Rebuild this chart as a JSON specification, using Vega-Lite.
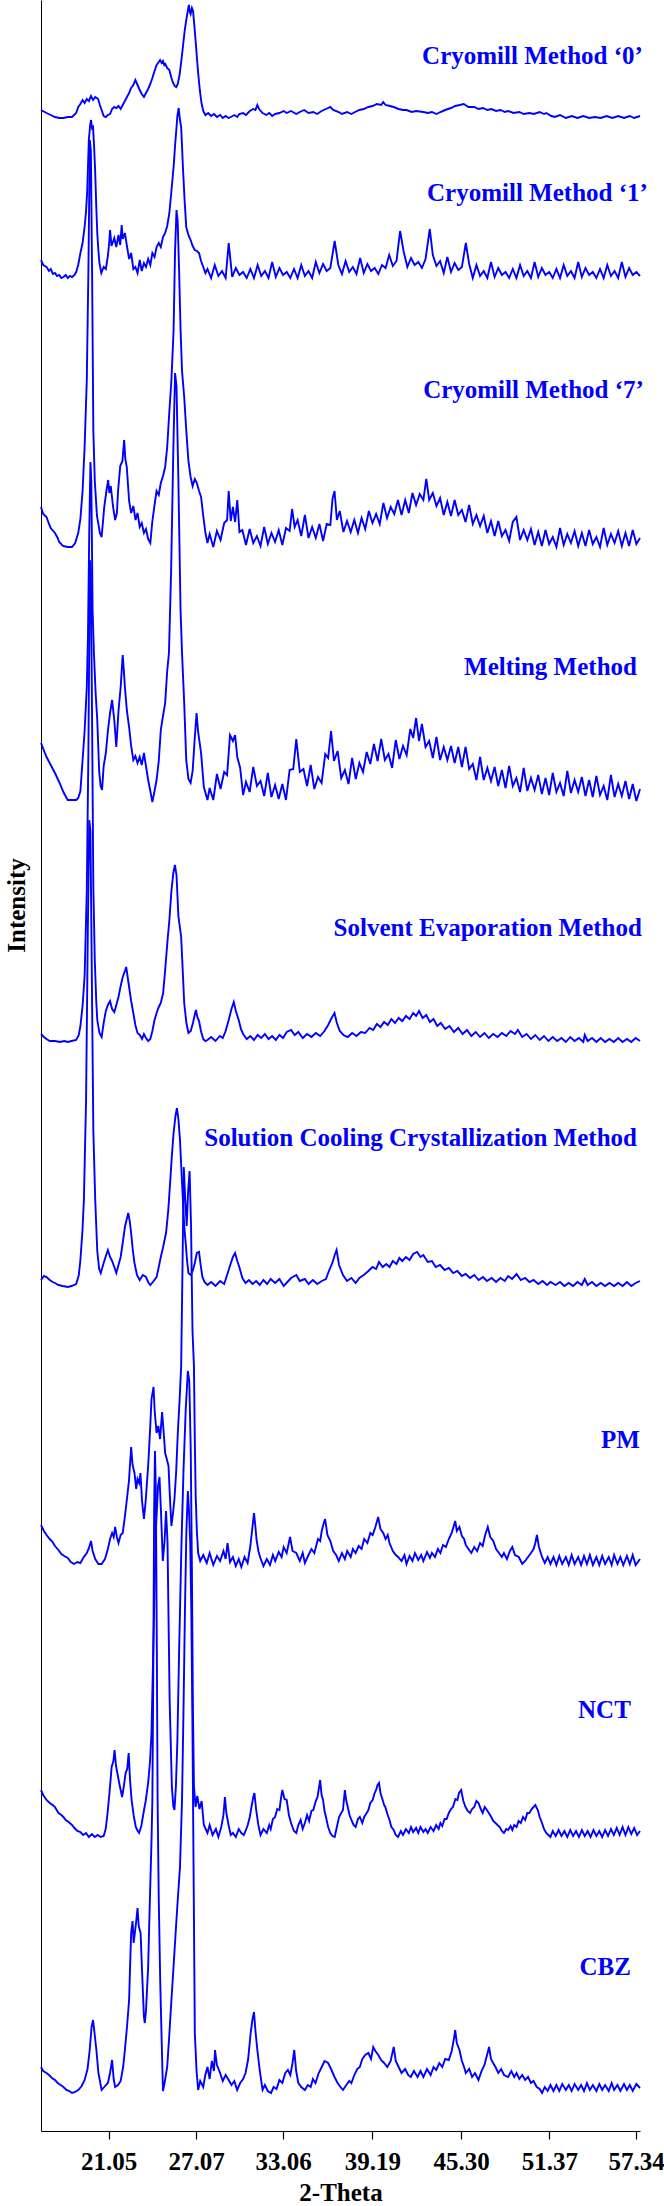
{"$schema":"https://vega.github.io/schema/vega-lite/v6.json","width":599,"height":2131,"autosize":{"type":"none"},"padding":{"left":41,"top":0,"right":24,"bottom":75},"config":{"view":{"stroke":null},"axis":{"grid":false}},
"datasets":{
"c0":[{"x":16.4,"y":2021},{"x":16.78,"y":2018},{"x":17.07,"y":2016},{"x":17.36,"y":2014},{"x":17.65,"y":2013},{"x":17.94,"y":2013},{"x":18.24,"y":2014},{"x":18.53,"y":2014},{"x":18.82,"y":2018},{"x":18.96,"y":2024},{"x":19.11,"y":2027},{"x":19.26,"y":2031},{"x":19.4,"y":2028},{"x":19.55,"y":2032},{"x":19.69,"y":2030},{"x":19.84,"y":2035},{"x":19.98,"y":2031},{"x":20.13,"y":2034},{"x":20.33,"y":2032},{"x":20.45,"y":2026},{"x":20.57,"y":2021},{"x":20.71,"y":2015},{"x":20.86,"y":2014},{"x":21.0,"y":2016},{"x":21.15,"y":2017},{"x":21.29,"y":2022},{"x":21.44,"y":2024},{"x":21.58,"y":2023},{"x":21.73,"y":2025},{"x":21.88,"y":2022},{"x":22.02,"y":2026},{"x":22.17,"y":2030},{"x":22.31,"y":2034},{"x":22.46,"y":2038},{"x":22.6,"y":2043},{"x":22.75,"y":2046},{"x":22.89,"y":2051},{"x":22.98,"y":2048},{"x":23.1,"y":2044},{"x":23.19,"y":2041},{"x":23.33,"y":2037},{"x":23.48,"y":2034},{"x":23.62,"y":2038},{"x":23.77,"y":2042},{"x":23.92,"y":2047},{"x":24.06,"y":2053},{"x":24.21,"y":2060},{"x":24.35,"y":2066},{"x":24.5,"y":2069},{"x":24.59,"y":2071},{"x":24.7,"y":2068},{"x":24.79,"y":2070},{"x":24.88,"y":2066},{"x":24.94,"y":2067},{"x":25.08,"y":2063},{"x":25.23,"y":2061},{"x":25.37,"y":2053},{"x":25.46,"y":2049},{"x":25.6,"y":2045},{"x":25.7,"y":2044},{"x":25.81,"y":2047},{"x":25.93,"y":2056},{"x":26.05,"y":2070},{"x":26.16,"y":2084},{"x":26.28,"y":2100},{"x":26.39,"y":2111},{"x":26.5,"y":2120},{"x":26.57,"y":2126},{"x":26.64,"y":2119},{"x":26.69,"y":2117},{"x":26.78,"y":2123},{"x":26.86,"y":2120},{"x":26.95,"y":2105},{"x":27.03,"y":2091},{"x":27.12,"y":2074},{"x":27.21,"y":2058},{"x":27.33,"y":2040},{"x":27.44,"y":2028},{"x":27.56,"y":2020},{"x":27.71,"y":2016},{"x":27.9,"y":2018},{"x":28.1,"y":2015},{"x":28.3,"y":2017},{"x":28.5,"y":2014},{"x":28.72,"y":2016},{"x":28.9,"y":2013},{"x":29.1,"y":2015},{"x":29.3,"y":2013},{"x":29.46,"y":2014},{"x":29.7,"y":2016},{"x":29.9,"y":2014},{"x":30.04,"y":2017},{"x":30.3,"y":2018},{"x":30.5,"y":2016},{"x":30.76,"y":2020},{"x":31.0,"y":2022},{"x":31.15,"y":2021},{"x":31.28,"y":2026},{"x":31.4,"y":2022},{"x":31.64,"y":2018},{"x":31.9,"y":2016},{"x":32.1,"y":2018},{"x":32.3,"y":2015},{"x":32.5,"y":2017},{"x":32.8,"y":2018},{"x":33.09,"y":2020},{"x":33.3,"y":2018},{"x":33.6,"y":2020},{"x":33.96,"y":2017},{"x":34.2,"y":2019},{"x":34.5,"y":2021},{"x":34.8,"y":2018},{"x":35.13,"y":2019},{"x":35.4,"y":2017},{"x":35.7,"y":2020},{"x":36.0,"y":2022},{"x":36.3,"y":2024},{"x":36.5,"y":2021},{"x":36.88,"y":2019},{"x":37.1,"y":2017},{"x":37.46,"y":2019},{"x":37.75,"y":2017},{"x":38.0,"y":2019},{"x":38.3,"y":2021},{"x":38.6,"y":2022},{"x":38.92,"y":2024},{"x":39.2,"y":2025},{"x":39.5,"y":2027},{"x":39.8,"y":2026},{"x":39.94,"y":2029},{"x":40.1,"y":2026},{"x":40.4,"y":2025},{"x":40.66,"y":2024},{"x":41.0,"y":2022},{"x":41.3,"y":2021},{"x":41.54,"y":2021},{"x":41.9,"y":2019},{"x":42.2,"y":2020},{"x":42.7,"y":2019},{"x":43.0,"y":2018},{"x":43.29,"y":2019},{"x":43.6,"y":2017},{"x":43.87,"y":2019},{"x":44.2,"y":2021},{"x":44.6,"y":2023},{"x":44.89,"y":2025},{"x":45.2,"y":2026},{"x":45.48,"y":2027},{"x":45.8,"y":2024},{"x":46.2,"y":2024},{"x":46.5,"y":2022},{"x":46.8,"y":2023},{"x":47.1,"y":2021},{"x":47.37,"y":2022},{"x":47.7,"y":2020},{"x":48.0,"y":2021},{"x":48.3,"y":2019},{"x":48.53,"y":2020},{"x":48.9,"y":2018},{"x":49.3,"y":2019},{"x":49.6,"y":2017},{"x":49.99,"y":2018},{"x":50.3,"y":2017},{"x":50.7,"y":2019},{"x":51.0,"y":2017},{"x":51.15,"y":2018},{"x":51.5,"y":2015},{"x":51.74,"y":2014},{"x":52.1,"y":2016},{"x":52.5,"y":2013},{"x":52.9,"y":2015},{"x":53.3,"y":2013},{"x":53.7,"y":2015},{"x":54.1,"y":2013},{"x":54.5,"y":2014},{"x":54.9,"y":2013},{"x":55.3,"y":2015},{"x":55.7,"y":2013},{"x":56.1,"y":2015},{"x":56.5,"y":2013},{"x":56.9,"y":2015},{"x":57.2,"y":2013},{"x":57.6,"y":2015}],
"c1":[{"x":16.4,"y":1871},{"x":16.55,"y":1866},{"x":16.78,"y":1864},{"x":16.95,"y":1860},{"x":17.07,"y":1862},{"x":17.22,"y":1857},{"x":17.36,"y":1858},{"x":17.5,"y":1855},{"x":17.65,"y":1856},{"x":17.8,"y":1853},{"x":17.94,"y":1854},{"x":18.1,"y":1856},{"x":18.24,"y":1853},{"x":18.4,"y":1855},{"x":18.53,"y":1854},{"x":18.7,"y":1856},{"x":18.82,"y":1859},{"x":18.96,"y":1866},{"x":19.11,"y":1878},{"x":19.26,"y":1888},{"x":19.4,"y":1904},{"x":19.5,"y":1920},{"x":19.58,"y":1940},{"x":19.69,"y":1991},{"x":19.78,"y":2006},{"x":19.84,"y":2011},{"x":19.91,"y":2003},{"x":19.98,"y":2004},{"x":20.05,"y":1985},{"x":20.13,"y":1958},{"x":20.2,"y":1925},{"x":20.27,"y":1898},{"x":20.35,"y":1880},{"x":20.42,"y":1868},{"x":20.55,"y":1858},{"x":20.71,"y":1864},{"x":20.86,"y":1862},{"x":21.0,"y":1875},{"x":21.1,"y":1890},{"x":21.15,"y":1901},{"x":21.25,"y":1885},{"x":21.44,"y":1893},{"x":21.58,"y":1884},{"x":21.73,"y":1896},{"x":21.85,"y":1886},{"x":21.95,"y":1906},{"x":22.02,"y":1892},{"x":22.17,"y":1898},{"x":22.31,"y":1885},{"x":22.46,"y":1872},{"x":22.6,"y":1878},{"x":22.75,"y":1862},{"x":22.89,"y":1864},{"x":23.04,"y":1858},{"x":23.19,"y":1871},{"x":23.33,"y":1860},{"x":23.48,"y":1868},{"x":23.62,"y":1864},{"x":23.77,"y":1872},{"x":23.92,"y":1866},{"x":24.06,"y":1878},{"x":24.21,"y":1874},{"x":24.35,"y":1884},{"x":24.5,"y":1888},{"x":24.64,"y":1884},{"x":24.79,"y":1894},{"x":24.94,"y":1898},{"x":25.08,"y":1905},{"x":25.23,"y":1918},{"x":25.37,"y":1940},{"x":25.52,"y":1964},{"x":25.62,"y":1985},{"x":25.69,"y":1998},{"x":25.78,"y":2015},{"x":25.87,"y":2023},{"x":25.95,"y":2012},{"x":26.04,"y":2004},{"x":26.1,"y":1985},{"x":26.16,"y":1964},{"x":26.28,"y":1930},{"x":26.39,"y":1904},{"x":26.54,"y":1896},{"x":26.69,"y":1891},{"x":26.83,"y":1885},{"x":26.98,"y":1881},{"x":27.12,"y":1880},{"x":27.27,"y":1878},{"x":27.41,"y":1870},{"x":27.56,"y":1864},{"x":27.71,"y":1858},{"x":27.85,"y":1862},{"x":28.1,"y":1853},{"x":28.35,"y":1866},{"x":28.6,"y":1855},{"x":28.85,"y":1860},{"x":29.1,"y":1853},{"x":29.31,"y":1888},{"x":29.55,"y":1854},{"x":29.8,"y":1863},{"x":30.05,"y":1856},{"x":30.3,"y":1859},{"x":30.55,"y":1853},{"x":30.8,"y":1862},{"x":31.05,"y":1853},{"x":31.3,"y":1866},{"x":31.55,"y":1855},{"x":31.8,"y":1860},{"x":32.05,"y":1853},{"x":32.3,"y":1869},{"x":32.55,"y":1854},{"x":32.8,"y":1863},{"x":33.05,"y":1856},{"x":33.3,"y":1859},{"x":33.55,"y":1853},{"x":33.8,"y":1862},{"x":34.05,"y":1853},{"x":34.3,"y":1866},{"x":34.55,"y":1855},{"x":34.8,"y":1860},{"x":35.05,"y":1853},{"x":35.3,"y":1869},{"x":35.55,"y":1858},{"x":35.8,"y":1867},{"x":36.05,"y":1860},{"x":36.3,"y":1863},{"x":36.6,"y":1890},{"x":36.85,"y":1866},{"x":37.1,"y":1857},{"x":37.35,"y":1870},{"x":37.6,"y":1859},{"x":37.85,"y":1864},{"x":38.1,"y":1857},{"x":38.35,"y":1873},{"x":38.6,"y":1858},{"x":38.85,"y":1867},{"x":39.1,"y":1860},{"x":39.35,"y":1863},{"x":39.6,"y":1857},{"x":39.85,"y":1866},{"x":40.1,"y":1863},{"x":40.35,"y":1876},{"x":40.6,"y":1865},{"x":40.85,"y":1870},{"x":41.1,"y":1900},{"x":41.35,"y":1879},{"x":41.6,"y":1864},{"x":41.85,"y":1873},{"x":42.1,"y":1866},{"x":42.35,"y":1869},{"x":42.6,"y":1863},{"x":42.85,"y":1872},{"x":43.14,"y":1902},{"x":43.35,"y":1876},{"x":43.6,"y":1865},{"x":43.85,"y":1870},{"x":44.1,"y":1858},{"x":44.35,"y":1874},{"x":44.6,"y":1859},{"x":44.85,"y":1868},{"x":45.1,"y":1861},{"x":45.35,"y":1864},{"x":45.62,"y":1888},{"x":45.85,"y":1867},{"x":46.1,"y":1853},{"x":46.35,"y":1866},{"x":46.6,"y":1855},{"x":46.85,"y":1860},{"x":47.1,"y":1853},{"x":47.35,"y":1869},{"x":47.6,"y":1854},{"x":47.85,"y":1863},{"x":48.1,"y":1856},{"x":48.35,"y":1859},{"x":48.6,"y":1853},{"x":48.85,"y":1862},{"x":49.1,"y":1853},{"x":49.35,"y":1866},{"x":49.6,"y":1855},{"x":49.85,"y":1860},{"x":50.1,"y":1853},{"x":50.35,"y":1869},{"x":50.6,"y":1854},{"x":50.85,"y":1863},{"x":51.1,"y":1856},{"x":51.35,"y":1859},{"x":51.6,"y":1853},{"x":51.85,"y":1862},{"x":52.1,"y":1853},{"x":52.35,"y":1866},{"x":52.6,"y":1855},{"x":52.85,"y":1860},{"x":53.1,"y":1853},{"x":53.35,"y":1869},{"x":53.6,"y":1854},{"x":53.85,"y":1863},{"x":54.1,"y":1856},{"x":54.35,"y":1859},{"x":54.6,"y":1853},{"x":54.85,"y":1862},{"x":55.1,"y":1853},{"x":55.35,"y":1866},{"x":55.6,"y":1855},{"x":55.85,"y":1860},{"x":56.1,"y":1853},{"x":56.35,"y":1869},{"x":56.6,"y":1854},{"x":56.85,"y":1863},{"x":57.1,"y":1856},{"x":57.35,"y":1859},{"x":57.6,"y":1855}],
"c7":[{"x":16.4,"y":1624},{"x":16.55,"y":1617},{"x":16.78,"y":1614},{"x":16.95,"y":1607},{"x":17.07,"y":1603},{"x":17.36,"y":1598},{"x":17.55,"y":1593},{"x":17.65,"y":1589},{"x":17.85,"y":1586},{"x":17.94,"y":1585},{"x":18.24,"y":1584},{"x":18.53,"y":1584},{"x":18.75,"y":1588},{"x":18.96,"y":1598},{"x":19.11,"y":1612},{"x":19.26,"y":1640},{"x":19.4,"y":1684},{"x":19.55,"y":1751},{"x":19.66,"y":1860},{"x":19.76,"y":1991},{"x":19.83,"y":1980},{"x":19.92,"y":1850},{"x":20.0,"y":1700},{"x":20.1,"y":1650},{"x":20.25,"y":1615},{"x":20.45,"y":1598},{"x":20.57,"y":1594},{"x":20.75,"y":1624},{"x":20.9,"y":1640},{"x":21.02,"y":1651},{"x":21.1,"y":1638},{"x":21.2,"y":1645},{"x":21.35,"y":1625},{"x":21.5,"y":1611},{"x":21.62,"y":1618},{"x":21.7,"y":1640},{"x":21.85,"y":1665},{"x":22.0,"y":1670},{"x":22.12,"y":1691},{"x":22.2,"y":1672},{"x":22.3,"y":1664},{"x":22.46,"y":1630},{"x":22.6,"y":1618},{"x":22.75,"y":1625},{"x":22.9,"y":1611},{"x":23.04,"y":1618},{"x":23.19,"y":1604},{"x":23.33,"y":1608},{"x":23.48,"y":1598},{"x":23.62,"y":1602},{"x":23.77,"y":1592},{"x":23.92,"y":1588},{"x":24.06,"y":1610},{"x":24.2,"y":1625},{"x":24.35,"y":1640},{"x":24.5,"y":1636},{"x":24.64,"y":1648},{"x":24.79,"y":1655},{"x":24.94,"y":1664},{"x":25.08,"y":1684},{"x":25.23,"y":1720},{"x":25.37,"y":1751},{"x":25.52,"y":1801},{"x":25.62,"y":1880},{"x":25.72,"y":1921},{"x":25.8,"y":1910},{"x":25.9,"y":1860},{"x":26.0,"y":1801},{"x":26.1,"y":1760},{"x":26.25,"y":1734},{"x":26.39,"y":1701},{"x":26.54,"y":1670},{"x":26.69,"y":1654},{"x":26.83,"y":1645},{"x":26.98,"y":1652},{"x":27.12,"y":1648},{"x":27.27,"y":1640},{"x":27.41,"y":1634},{"x":27.56,"y":1615},{"x":27.71,"y":1598},{"x":27.85,"y":1588},{"x":28.0,"y":1597},{"x":28.25,"y":1584},{"x":28.5,"y":1600},{"x":28.75,"y":1591},{"x":29.0,"y":1608},{"x":29.2,"y":1611},{"x":29.31,"y":1640},{"x":29.45,"y":1610},{"x":29.6,"y":1624},{"x":29.75,"y":1609},{"x":29.9,"y":1631},{"x":30.05,"y":1599},{"x":30.25,"y":1601},{"x":30.5,"y":1586},{"x":30.75,"y":1602},{"x":31.0,"y":1588},{"x":31.25,"y":1595},{"x":31.5,"y":1585},{"x":31.75,"y":1604},{"x":32.0,"y":1587},{"x":32.25,"y":1598},{"x":32.5,"y":1589},{"x":32.75,"y":1601},{"x":33.0,"y":1586},{"x":33.25,"y":1603},{"x":33.5,"y":1600},{"x":33.67,"y":1622},{"x":33.85,"y":1604},{"x":34.05,"y":1611},{"x":34.3,"y":1595},{"x":34.55,"y":1616},{"x":34.8,"y":1593},{"x":35.05,"y":1604},{"x":35.3,"y":1593},{"x":35.55,"y":1607},{"x":35.8,"y":1590},{"x":36.05,"y":1607},{"x":36.3,"y":1606},{"x":36.45,"y":1632},{"x":36.59,"y":1640},{"x":36.75,"y":1611},{"x":36.95,"y":1620},{"x":37.2,"y":1599},{"x":37.45,"y":1610},{"x":37.7,"y":1599},{"x":37.95,"y":1611},{"x":38.2,"y":1598},{"x":38.45,"y":1613},{"x":38.7,"y":1602},{"x":38.95,"y":1620},{"x":39.2,"y":1608},{"x":39.45,"y":1617},{"x":39.7,"y":1607},{"x":39.95,"y":1628},{"x":40.2,"y":1613},{"x":40.45,"y":1624},{"x":40.7,"y":1617},{"x":40.95,"y":1631},{"x":41.2,"y":1616},{"x":41.45,"y":1631},{"x":41.7,"y":1618},{"x":41.95,"y":1638},{"x":42.2,"y":1626},{"x":42.45,"y":1637},{"x":42.7,"y":1631},{"x":42.9,"y":1652},{"x":43.1,"y":1631},{"x":43.35,"y":1638},{"x":43.6,"y":1625},{"x":43.85,"y":1633},{"x":44.1,"y":1616},{"x":44.35,"y":1629},{"x":44.6,"y":1615},{"x":44.85,"y":1631},{"x":45.1,"y":1616},{"x":45.35,"y":1621},{"x":45.6,"y":1609},{"x":45.85,"y":1626},{"x":46.1,"y":1607},{"x":46.35,"y":1616},{"x":46.6,"y":1605},{"x":46.85,"y":1615},{"x":47.1,"y":1598},{"x":47.35,"y":1610},{"x":47.6,"y":1595},{"x":47.85,"y":1610},{"x":48.1,"y":1595},{"x":48.35,"y":1601},{"x":48.6,"y":1590},{"x":48.85,"y":1609},{"x":49.1,"y":1614},{"x":49.35,"y":1591},{"x":49.6,"y":1601},{"x":49.85,"y":1591},{"x":50.1,"y":1602},{"x":50.35,"y":1586},{"x":50.6,"y":1599},{"x":50.85,"y":1585},{"x":51.1,"y":1601},{"x":51.35,"y":1587},{"x":51.6,"y":1594},{"x":51.85,"y":1584},{"x":52.1,"y":1603},{"x":52.35,"y":1586},{"x":52.6,"y":1597},{"x":52.85,"y":1588},{"x":53.1,"y":1600},{"x":53.35,"y":1585},{"x":53.6,"y":1598},{"x":53.85,"y":1585},{"x":54.1,"y":1601},{"x":54.35,"y":1587},{"x":54.6,"y":1594},{"x":54.85,"y":1584},{"x":55.1,"y":1603},{"x":55.35,"y":1586},{"x":55.6,"y":1597},{"x":55.85,"y":1588},{"x":56.1,"y":1600},{"x":56.35,"y":1585},{"x":56.6,"y":1598},{"x":56.85,"y":1585},{"x":57.1,"y":1601},{"x":57.35,"y":1587},{"x":57.6,"y":1593}],
"melt":[{"x":16.4,"y":1388},{"x":16.78,"y":1374},{"x":17.07,"y":1366},{"x":17.36,"y":1358},{"x":17.65,"y":1349},{"x":17.94,"y":1339},{"x":18.24,"y":1331},{"x":18.53,"y":1331},{"x":18.82,"y":1331},{"x":18.96,"y":1333},{"x":19.11,"y":1340},{"x":19.26,"y":1371},{"x":19.4,"y":1400},{"x":19.55,"y":1444},{"x":19.63,"y":1494},{"x":19.72,"y":1600},{"x":19.8,"y":1669},{"x":19.86,"y":1650},{"x":19.95,"y":1520},{"x":20.04,"y":1478},{"x":20.15,"y":1440},{"x":20.27,"y":1411},{"x":20.4,"y":1360},{"x":20.5,"y":1345},{"x":20.6,"y":1341},{"x":20.71,"y":1365},{"x":20.86,"y":1378},{"x":21.0,"y":1400},{"x":21.15,"y":1418},{"x":21.29,"y":1431},{"x":21.44,"y":1411},{"x":21.58,"y":1384},{"x":21.73,"y":1420},{"x":21.88,"y":1444},{"x":22.02,"y":1476},{"x":22.1,"y":1460},{"x":22.17,"y":1444},{"x":22.31,"y":1420},{"x":22.46,"y":1404},{"x":22.6,"y":1385},{"x":22.75,"y":1371},{"x":22.89,"y":1375},{"x":23.04,"y":1368},{"x":23.19,"y":1374},{"x":23.33,"y":1366},{"x":23.48,"y":1378},{"x":23.62,"y":1365},{"x":23.77,"y":1351},{"x":23.92,"y":1340},{"x":24.06,"y":1329},{"x":24.21,"y":1340},{"x":24.35,"y":1351},{"x":24.5,"y":1370},{"x":24.64,"y":1401},{"x":24.79,"y":1415},{"x":24.94,"y":1428},{"x":25.08,"y":1460},{"x":25.2,"y":1478},{"x":25.35,"y":1560},{"x":25.5,"y":1680},{"x":25.62,"y":1758},{"x":25.72,"y":1745},{"x":25.85,"y":1650},{"x":26.0,"y":1520},{"x":26.1,"y":1478},{"x":26.25,"y":1428},{"x":26.39,"y":1371},{"x":26.54,"y":1352},{"x":26.69,"y":1348},{"x":26.83,"y":1360},{"x":26.98,"y":1394},{"x":27.1,"y":1418},{"x":27.2,"y":1400},{"x":27.41,"y":1378},{"x":27.6,"y":1344},{"x":27.85,"y":1331},{"x":28.0,"y":1343},{"x":28.25,"y":1331},{"x":28.5,"y":1357},{"x":28.75,"y":1342},{"x":29.0,"y":1359},{"x":29.2,"y":1356},{"x":29.4,"y":1396},{"x":29.6,"y":1390},{"x":29.75,"y":1396},{"x":29.9,"y":1374},{"x":30.1,"y":1363},{"x":30.3,"y":1336},{"x":30.5,"y":1349},{"x":30.75,"y":1339},{"x":31.0,"y":1364},{"x":31.25,"y":1345},{"x":31.5,"y":1350},{"x":31.75,"y":1335},{"x":32.0,"y":1358},{"x":32.25,"y":1334},{"x":32.5,"y":1346},{"x":32.75,"y":1332},{"x":33.0,"y":1347},{"x":33.25,"y":1331},{"x":33.5,"y":1361},{"x":33.75,"y":1362},{"x":33.96,"y":1392},{"x":34.2,"y":1359},{"x":34.45,"y":1362},{"x":34.7,"y":1345},{"x":34.95,"y":1366},{"x":35.2,"y":1342},{"x":35.45,"y":1354},{"x":35.7,"y":1348},{"x":35.95,"y":1377},{"x":36.15,"y":1373},{"x":36.35,"y":1400},{"x":36.55,"y":1370},{"x":36.8,"y":1380},{"x":37.05,"y":1353},{"x":37.3,"y":1361},{"x":37.55,"y":1347},{"x":37.8,"y":1373},{"x":38.05,"y":1352},{"x":38.3,"y":1368},{"x":38.55,"y":1359},{"x":38.8,"y":1379},{"x":39.05,"y":1367},{"x":39.3,"y":1387},{"x":39.55,"y":1370},{"x":39.8,"y":1392},{"x":40.05,"y":1371},{"x":40.3,"y":1377},{"x":40.55,"y":1363},{"x":40.8,"y":1391},{"x":41.05,"y":1372},{"x":41.3,"y":1385},{"x":41.55,"y":1376},{"x":41.8,"y":1402},{"x":42.0,"y":1393},{"x":42.2,"y":1413},{"x":42.4,"y":1390},{"x":42.6,"y":1407},{"x":42.85,"y":1384},{"x":43.1,"y":1390},{"x":43.35,"y":1373},{"x":43.6,"y":1394},{"x":43.85,"y":1371},{"x":44.1,"y":1384},{"x":44.35,"y":1371},{"x":44.6,"y":1385},{"x":44.85,"y":1368},{"x":45.1,"y":1384},{"x":45.35,"y":1364},{"x":45.6,"y":1384},{"x":45.85,"y":1362},{"x":46.1,"y":1367},{"x":46.35,"y":1351},{"x":46.6,"y":1374},{"x":46.85,"y":1351},{"x":47.1,"y":1363},{"x":47.35,"y":1350},{"x":47.6,"y":1364},{"x":47.85,"y":1345},{"x":48.1,"y":1361},{"x":48.35,"y":1343},{"x":48.6,"y":1365},{"x":48.85,"y":1345},{"x":49.1,"y":1353},{"x":49.35,"y":1339},{"x":49.6,"y":1363},{"x":49.85,"y":1340},{"x":50.1,"y":1353},{"x":50.35,"y":1341},{"x":50.6,"y":1356},{"x":50.85,"y":1337},{"x":51.1,"y":1353},{"x":51.35,"y":1336},{"x":51.6,"y":1358},{"x":51.85,"y":1339},{"x":52.1,"y":1348},{"x":52.35,"y":1335},{"x":52.6,"y":1360},{"x":52.85,"y":1338},{"x":53.1,"y":1351},{"x":53.35,"y":1339},{"x":53.6,"y":1354},{"x":53.85,"y":1335},{"x":54.1,"y":1351},{"x":54.35,"y":1334},{"x":54.6,"y":1355},{"x":54.85,"y":1336},{"x":55.1,"y":1345},{"x":55.35,"y":1331},{"x":55.6,"y":1356},{"x":55.85,"y":1334},{"x":56.1,"y":1347},{"x":56.35,"y":1335},{"x":56.6,"y":1350},{"x":56.85,"y":1332},{"x":57.1,"y":1347},{"x":57.35,"y":1330},{"x":57.6,"y":1342}],
"solv":[{"x":16.4,"y":1097},{"x":16.6,"y":1094},{"x":16.78,"y":1092},{"x":17.0,"y":1090},{"x":17.36,"y":1090},{"x":17.7,"y":1089},{"x":18.0,"y":1090},{"x":18.24,"y":1089},{"x":18.5,"y":1090},{"x":18.82,"y":1091},{"x":19.0,"y":1096},{"x":19.11,"y":1105},{"x":19.26,"y":1125},{"x":19.4,"y":1155},{"x":19.55,"y":1240},{"x":19.66,"y":1380},{"x":19.76,"y":1571},{"x":19.83,"y":1560},{"x":19.92,"y":1400},{"x":20.0,"y":1244},{"x":20.1,"y":1170},{"x":20.2,"y":1130},{"x":20.27,"y":1111},{"x":20.42,"y":1098},{"x":20.57,"y":1094},{"x":20.71,"y":1108},{"x":20.86,"y":1120},{"x":21.0,"y":1126},{"x":21.15,"y":1130},{"x":21.29,"y":1122},{"x":21.44,"y":1119},{"x":21.58,"y":1126},{"x":21.73,"y":1134},{"x":21.88,"y":1145},{"x":22.02,"y":1154},{"x":22.17,"y":1160},{"x":22.26,"y":1164},{"x":22.4,"y":1150},{"x":22.6,"y":1130},{"x":22.75,"y":1118},{"x":22.89,"y":1106},{"x":23.04,"y":1098},{"x":23.2,"y":1096},{"x":23.35,"y":1092},{"x":23.48,"y":1097},{"x":23.62,"y":1093},{"x":23.77,"y":1090},{"x":23.92,"y":1092},{"x":24.06,"y":1100},{"x":24.21,"y":1111},{"x":24.35,"y":1118},{"x":24.5,"y":1124},{"x":24.64,"y":1128},{"x":24.8,"y":1138},{"x":24.94,"y":1161},{"x":25.1,"y":1190},{"x":25.23,"y":1211},{"x":25.37,"y":1240},{"x":25.5,"y":1258},{"x":25.61,"y":1266},{"x":25.72,"y":1256},{"x":25.85,"y":1215},{"x":26.04,"y":1194},{"x":26.15,"y":1160},{"x":26.25,"y":1128},{"x":26.4,"y":1108},{"x":26.54,"y":1098},{"x":26.7,"y":1100},{"x":26.85,"y":1108},{"x":27.0,"y":1118},{"x":27.06,"y":1121},{"x":27.15,"y":1114},{"x":27.27,"y":1110},{"x":27.4,"y":1100},{"x":27.56,"y":1092},{"x":27.7,"y":1090},{"x":27.85,"y":1091},{"x":28.1,"y":1094},{"x":28.4,"y":1090},{"x":28.7,"y":1095},{"x":28.9,"y":1093},{"x":29.1,"y":1100},{"x":29.31,"y":1111},{"x":29.5,"y":1122},{"x":29.66,"y":1129},{"x":29.8,"y":1120},{"x":30.0,"y":1111},{"x":30.15,"y":1102},{"x":30.3,"y":1097},{"x":30.55,"y":1092},{"x":30.8,"y":1095},{"x":31.05,"y":1091},{"x":31.3,"y":1096},{"x":31.55,"y":1093},{"x":31.8,"y":1097},{"x":32.05,"y":1092},{"x":32.3,"y":1095},{"x":32.55,"y":1091},{"x":32.8,"y":1096},{"x":33.05,"y":1093},{"x":33.3,"y":1099},{"x":33.6,"y":1101},{"x":33.85,"y":1096},{"x":34.1,"y":1099},{"x":34.4,"y":1093},{"x":34.7,"y":1097},{"x":35.0,"y":1094},{"x":35.3,"y":1098},{"x":35.6,"y":1095},{"x":35.9,"y":1100},{"x":36.15,"y":1106},{"x":36.35,"y":1112},{"x":36.59,"y":1118},{"x":36.75,"y":1108},{"x":36.95,"y":1100},{"x":37.2,"y":1096},{"x":37.5,"y":1094},{"x":37.8,"y":1098},{"x":38.1,"y":1095},{"x":38.4,"y":1099},{"x":38.7,"y":1098},{"x":39.0,"y":1103},{"x":39.25,"y":1101},{"x":39.5,"y":1107},{"x":39.75,"y":1104},{"x":40.0,"y":1109},{"x":40.25,"y":1106},{"x":40.5,"y":1112},{"x":40.75,"y":1108},{"x":41.0,"y":1113},{"x":41.25,"y":1110},{"x":41.5,"y":1115},{"x":41.75,"y":1112},{"x":42.0,"y":1118},{"x":42.2,"y":1115},{"x":42.4,"y":1120},{"x":42.65,"y":1113},{"x":42.9,"y":1116},{"x":43.15,"y":1109},{"x":43.4,"y":1112},{"x":43.65,"y":1105},{"x":43.9,"y":1108},{"x":44.2,"y":1102},{"x":44.5,"y":1105},{"x":44.8,"y":1099},{"x":45.1,"y":1103},{"x":45.4,"y":1097},{"x":45.7,"y":1101},{"x":46.0,"y":1095},{"x":46.3,"y":1099},{"x":46.6,"y":1094},{"x":46.9,"y":1098},{"x":47.2,"y":1093},{"x":47.5,"y":1097},{"x":47.8,"y":1094},{"x":48.1,"y":1098},{"x":48.4,"y":1095},{"x":48.7,"y":1100},{"x":49.0,"y":1097},{"x":49.2,"y":1101},{"x":49.5,"y":1094},{"x":49.8,"y":1097},{"x":50.1,"y":1092},{"x":50.4,"y":1096},{"x":50.7,"y":1091},{"x":51.0,"y":1095},{"x":51.3,"y":1090},{"x":51.6,"y":1094},{"x":51.9,"y":1090},{"x":52.2,"y":1093},{"x":52.5,"y":1089},{"x":52.8,"y":1094},{"x":53.1,"y":1090},{"x":53.4,"y":1093},{"x":53.7,"y":1089},{"x":53.8,"y":1096},{"x":54.0,"y":1090},{"x":54.3,"y":1093},{"x":54.6,"y":1089},{"x":54.9,"y":1093},{"x":55.2,"y":1089},{"x":55.5,"y":1092},{"x":55.8,"y":1089},{"x":56.1,"y":1093},{"x":56.4,"y":1089},{"x":56.7,"y":1092},{"x":57.0,"y":1089},{"x":57.3,"y":1093},{"x":57.6,"y":1090}],
"sol":[{"x":16.4,"y":851},{"x":16.6,"y":855},{"x":16.78,"y":854},{"x":17.0,"y":851},{"x":17.2,"y":849},{"x":17.36,"y":848},{"x":17.6,"y":846},{"x":17.9,"y":845},{"x":18.24,"y":844},{"x":18.5,"y":845},{"x":18.82,"y":847},{"x":19.0,"y":856},{"x":19.11,"y":871},{"x":19.25,"y":900},{"x":19.35,"y":931},{"x":19.5,"y":1031},{"x":19.62,"y":1200},{"x":19.72,"y":1311},{"x":19.8,"y":1300},{"x":19.9,"y":1150},{"x":20.0,"y":1000},{"x":20.13,"y":931},{"x":20.27,"y":880},{"x":20.4,"y":862},{"x":20.51,"y":858},{"x":20.71,"y":868},{"x":20.86,"y":875},{"x":21.0,"y":881},{"x":21.15,"y":874},{"x":21.29,"y":870},{"x":21.44,"y":864},{"x":21.58,"y":858},{"x":21.73,"y":866},{"x":21.88,"y":874},{"x":22.02,"y":888},{"x":22.17,"y":904},{"x":22.3,"y":912},{"x":22.4,"y":918},{"x":22.5,"y":910},{"x":22.6,"y":898},{"x":22.72,"y":880},{"x":22.83,"y":868},{"x":23.0,"y":856},{"x":23.19,"y":851},{"x":23.4,"y":856},{"x":23.62,"y":854},{"x":23.8,"y":848},{"x":23.92,"y":846},{"x":24.15,"y":850},{"x":24.35,"y":854},{"x":24.5,"y":864},{"x":24.64,"y":874},{"x":24.8,"y":884},{"x":25.0,"y":898},{"x":25.15,"y":920},{"x":25.28,"y":948},{"x":25.4,"y":975},{"x":25.52,"y":998},{"x":25.65,"y":1015},{"x":25.75,"y":1023},{"x":25.85,"y":1012},{"x":25.96,"y":991},{"x":26.06,"y":960},{"x":26.16,"y":931},{"x":26.25,"y":905},{"x":26.34,"y":890},{"x":26.45,"y":870},{"x":26.54,"y":858},{"x":26.7,"y":856},{"x":26.83,"y":860},{"x":26.98,"y":868},{"x":27.12,"y":878},{"x":27.27,"y":879},{"x":27.38,"y":866},{"x":27.5,"y":854},{"x":27.65,"y":849},{"x":27.85,"y":846},{"x":28.1,"y":849},{"x":28.4,"y":845},{"x":28.72,"y":850},{"x":29.0,"y":847},{"x":29.2,"y":856},{"x":29.46,"y":868},{"x":29.6,"y":874},{"x":29.75,"y":878},{"x":29.9,"y":870},{"x":30.04,"y":864},{"x":30.25,"y":853},{"x":30.47,"y":848},{"x":30.7,"y":851},{"x":30.95,"y":847},{"x":31.2,"y":850},{"x":31.45,"y":846},{"x":31.7,"y":851},{"x":31.95,"y":847},{"x":32.2,"y":852},{"x":32.5,"y":848},{"x":32.8,"y":852},{"x":33.09,"y":845},{"x":33.35,"y":849},{"x":33.6,"y":853},{"x":33.96,"y":856},{"x":34.2,"y":850},{"x":34.55,"y":852},{"x":34.8,"y":847},{"x":35.1,"y":851},{"x":35.4,"y":847},{"x":35.71,"y":850},{"x":36.0,"y":852},{"x":36.2,"y":860},{"x":36.44,"y":868},{"x":36.6,"y":876},{"x":36.73,"y":881},{"x":36.9,"y":866},{"x":37.17,"y":856},{"x":37.45,"y":850},{"x":37.75,"y":853},{"x":38.04,"y":848},{"x":38.3,"y":853},{"x":38.6,"y":856},{"x":38.92,"y":860},{"x":39.2,"y":864},{"x":39.45,"y":862},{"x":39.65,"y":869},{"x":39.9,"y":864},{"x":40.15,"y":867},{"x":40.37,"y":864},{"x":40.6,"y":870},{"x":40.85,"y":867},{"x":41.05,"y":873},{"x":41.25,"y":870},{"x":41.5,"y":874},{"x":41.75,"y":871},{"x":42.0,"y":877},{"x":42.27,"y":879},{"x":42.5,"y":874},{"x":42.7,"y":876},{"x":43.0,"y":869},{"x":43.29,"y":870},{"x":43.55,"y":864},{"x":43.85,"y":866},{"x":44.16,"y":861},{"x":44.45,"y":863},{"x":44.75,"y":858},{"x":45.04,"y":860},{"x":45.35,"y":855},{"x":45.6,"y":857},{"x":45.91,"y":853},{"x":46.2,"y":856},{"x":46.5,"y":851},{"x":46.8,"y":854},{"x":47.07,"y":850},{"x":47.4,"y":853},{"x":47.7,"y":849},{"x":48.0,"y":853},{"x":48.3,"y":850},{"x":48.53,"y":855},{"x":48.8,"y":852},{"x":49.11,"y":857},{"x":49.4,"y":851},{"x":49.7,"y":853},{"x":50.0,"y":849},{"x":50.28,"y":851},{"x":50.6,"y":847},{"x":50.9,"y":850},{"x":51.2,"y":846},{"x":51.44,"y":849},{"x":51.8,"y":846},{"x":52.1,"y":849},{"x":52.4,"y":845},{"x":52.7,"y":848},{"x":53.0,"y":845},{"x":53.3,"y":849},{"x":53.6,"y":846},{"x":53.8,"y":852},{"x":54.0,"y":846},{"x":54.3,"y":849},{"x":54.6,"y":845},{"x":54.9,"y":848},{"x":55.2,"y":845},{"x":55.5,"y":848},{"x":55.82,"y":845},{"x":56.1,"y":848},{"x":56.4,"y":845},{"x":56.7,"y":849},{"x":57.0,"y":845},{"x":57.3,"y":848},{"x":57.6,"y":850}],
"pm":[{"x":16.4,"y":606},{"x":16.6,"y":600},{"x":16.78,"y":596},{"x":17.0,"y":592},{"x":17.2,"y":589},{"x":17.36,"y":585},{"x":17.6,"y":581},{"x":17.8,"y":577},{"x":18.0,"y":575},{"x":18.24,"y":573},{"x":18.45,"y":569},{"x":18.67,"y":567},{"x":18.9,"y":569},{"x":19.11,"y":568},{"x":19.3,"y":573},{"x":19.55,"y":578},{"x":19.7,"y":583},{"x":19.84,"y":590},{"x":19.95,"y":580},{"x":20.13,"y":572},{"x":20.35,"y":567},{"x":20.57,"y":567},{"x":20.8,"y":572},{"x":21.0,"y":582},{"x":21.15,"y":592},{"x":21.29,"y":598},{"x":21.4,"y":594},{"x":21.5,"y":604},{"x":21.62,"y":594},{"x":21.73,"y":588},{"x":21.88,"y":596},{"x":22.02,"y":598},{"x":22.15,"y":612},{"x":22.31,"y":632},{"x":22.45,"y":650},{"x":22.6,"y":684},{"x":22.7,"y":666},{"x":22.83,"y":658},{"x":22.95,"y":642},{"x":23.04,"y":652},{"x":23.15,"y":648},{"x":23.24,"y":658},{"x":23.35,"y":630},{"x":23.48,"y":612},{"x":23.6,"y":630},{"x":23.77,"y":665},{"x":23.9,"y":700},{"x":24.0,"y":732},{"x":24.14,"y":744},{"x":24.22,"y":720},{"x":24.35,"y":698},{"x":24.47,"y":705},{"x":24.59,"y":692},{"x":24.73,"y":719},{"x":24.83,"y":700},{"x":24.94,"y":678},{"x":25.05,"y":672},{"x":25.17,"y":665},{"x":25.28,"y":630},{"x":25.37,"y":605},{"x":25.48,"y":618},{"x":25.58,"y":632},{"x":25.7,"y":660},{"x":25.81,"y":698},{"x":25.93,"y":730},{"x":26.04,"y":765},{"x":26.12,"y":850},{"x":26.22,"y":964},{"x":26.32,"y":932},{"x":26.42,"y":905},{"x":26.52,"y":940},{"x":26.62,"y":960},{"x":26.72,"y":905},{"x":26.82,"y":800},{"x":26.92,"y":765},{"x":26.98,"y":690},{"x":27.04,"y":635},{"x":27.12,"y":600},{"x":27.21,"y":578},{"x":27.35,"y":570},{"x":27.56,"y":576},{"x":27.8,"y":568},{"x":28.0,"y":578},{"x":28.25,"y":566},{"x":28.5,"y":575},{"x":28.72,"y":570},{"x":28.95,"y":580},{"x":29.1,"y":572},{"x":29.23,"y":588},{"x":29.4,"y":569},{"x":29.6,"y":574},{"x":29.8,"y":565},{"x":30.0,"y":572},{"x":30.18,"y":564},{"x":30.4,"y":574},{"x":30.61,"y":568},{"x":30.8,"y":585},{"x":30.9,"y":598},{"x":31.05,"y":618},{"x":31.15,"y":604},{"x":31.22,"y":592},{"x":31.35,"y":580},{"x":31.49,"y":573},{"x":31.7,"y":565},{"x":31.93,"y":572},{"x":32.15,"y":566},{"x":32.35,"y":576},{"x":32.51,"y":570},{"x":32.75,"y":579},{"x":32.95,"y":574},{"x":33.09,"y":584},{"x":33.3,"y":578},{"x":33.53,"y":594},{"x":33.7,"y":580},{"x":33.96,"y":578},{"x":34.2,"y":570},{"x":34.4,"y":578},{"x":34.55,"y":568},{"x":34.8,"y":576},{"x":35.0,"y":582},{"x":35.2,"y":578},{"x":35.45,"y":592},{"x":35.6,"y":590},{"x":35.71,"y":600},{"x":35.85,"y":608},{"x":35.94,"y":612},{"x":36.1,"y":596},{"x":36.3,"y":590},{"x":36.5,"y":580},{"x":36.7,"y":576},{"x":36.88,"y":570},{"x":37.1,"y":578},{"x":37.3,"y":572},{"x":37.46,"y":580},{"x":37.7,"y":574},{"x":37.85,"y":582},{"x":38.04,"y":578},{"x":38.25,"y":585},{"x":38.45,"y":582},{"x":38.63,"y":592},{"x":38.85,"y":588},{"x":39.05,"y":598},{"x":39.21,"y":596},{"x":39.4,"y":604},{"x":39.59,"y":614},{"x":39.75,"y":602},{"x":39.94,"y":598},{"x":40.1,"y":592},{"x":40.25,"y":596},{"x":40.37,"y":588},{"x":40.6,"y":580},{"x":40.8,"y":576},{"x":40.96,"y":574},{"x":41.2,"y":570},{"x":41.4,"y":576},{"x":41.54,"y":567},{"x":41.75,"y":575},{"x":41.95,"y":570},{"x":42.12,"y":578},{"x":42.35,"y":571},{"x":42.55,"y":576},{"x":42.7,"y":570},{"x":42.95,"y":579},{"x":43.15,"y":573},{"x":43.29,"y":578},{"x":43.5,"y":574},{"x":43.7,"y":582},{"x":43.87,"y":578},{"x":44.05,"y":586},{"x":44.25,"y":584},{"x":44.45,"y":592},{"x":44.65,"y":598},{"x":44.89,"y":610},{"x":45.0,"y":600},{"x":45.18,"y":604},{"x":45.35,"y":595},{"x":45.5,"y":592},{"x":45.62,"y":586},{"x":45.8,"y":582},{"x":46.0,"y":578},{"x":46.2,"y":584},{"x":46.4,"y":580},{"x":46.6,"y":588},{"x":46.78,"y":585},{"x":46.95,"y":596},{"x":47.13,"y":604},{"x":47.3,"y":594},{"x":47.51,"y":590},{"x":47.7,"y":582},{"x":47.9,"y":578},{"x":48.1,"y":574},{"x":48.24,"y":578},{"x":48.45,"y":572},{"x":48.65,"y":580},{"x":48.82,"y":584},{"x":49.0,"y":576},{"x":49.26,"y":574},{"x":49.5,"y":567},{"x":49.7,"y":570},{"x":49.9,"y":574},{"x":50.1,"y":578},{"x":50.28,"y":582},{"x":50.4,"y":588},{"x":50.51,"y":596},{"x":50.65,"y":584},{"x":50.86,"y":574},{"x":51.05,"y":568},{"x":51.25,"y":574},{"x":51.44,"y":567},{"x":51.65,"y":574},{"x":51.85,"y":566},{"x":52.05,"y":575},{"x":52.25,"y":567},{"x":52.5,"y":574},{"x":52.7,"y":566},{"x":52.9,"y":576},{"x":53.1,"y":567},{"x":53.35,"y":574},{"x":53.55,"y":566},{"x":53.75,"y":575},{"x":53.95,"y":567},{"x":54.15,"y":576},{"x":54.36,"y":566},{"x":54.6,"y":574},{"x":54.8,"y":566},{"x":55.0,"y":575},{"x":55.2,"y":567},{"x":55.45,"y":574},{"x":55.65,"y":566},{"x":55.82,"y":576},{"x":56.05,"y":567},{"x":56.25,"y":574},{"x":56.45,"y":566},{"x":56.7,"y":575},{"x":56.9,"y":567},{"x":57.1,"y":576},{"x":57.3,"y":566},{"x":57.6,"y":572}],
"nct":[{"x":16.4,"y":341},{"x":16.55,"y":336},{"x":16.78,"y":331},{"x":17.0,"y":328},{"x":17.2,"y":326},{"x":17.36,"y":324},{"x":17.6,"y":318},{"x":17.8,"y":316},{"x":17.94,"y":314},{"x":18.1,"y":311},{"x":18.3,"y":309},{"x":18.53,"y":306},{"x":18.7,"y":303},{"x":18.9,"y":300},{"x":19.11,"y":299},{"x":19.3,"y":296},{"x":19.5,"y":298},{"x":19.69,"y":294},{"x":19.9,"y":297},{"x":20.1,"y":294},{"x":20.3,"y":296},{"x":20.5,"y":294},{"x":20.71,"y":295},{"x":20.85,"y":302},{"x":20.98,"y":318},{"x":21.12,"y":340},{"x":21.26,"y":364},{"x":21.38,"y":370},{"x":21.46,"y":381},{"x":21.56,"y":365},{"x":21.7,"y":354},{"x":21.82,"y":345},{"x":21.98,"y":334},{"x":22.1,"y":345},{"x":22.22,"y":358},{"x":22.33,"y":362},{"x":22.43,"y":378},{"x":22.53,"y":350},{"x":22.63,"y":331},{"x":22.78,"y":315},{"x":22.92,"y":304},{"x":23.05,"y":300},{"x":23.15,"y":298},{"x":23.3,"y":305},{"x":23.45,"y":318},{"x":23.6,"y":330},{"x":23.77,"y":348},{"x":23.9,"y":370},{"x":24.0,"y":398},{"x":24.15,"y":500},{"x":24.3,"y":600},{"x":24.45,"y":645},{"x":24.55,"y":654},{"x":24.65,"y":620},{"x":24.78,"y":570},{"x":24.9,"y":590},{"x":25.0,"y":620},{"x":25.1,"y":590},{"x":25.25,"y":430},{"x":25.4,"y":345},{"x":25.5,"y":325},{"x":25.58,"y":321},{"x":25.68,"y":345},{"x":25.78,"y":390},{"x":25.9,"y":480},{"x":26.05,"y":580},{"x":26.2,"y":660},{"x":26.35,"y":720},{"x":26.5,"y":760},{"x":26.6,"y":750},{"x":26.7,"y":680},{"x":26.78,"y":560},{"x":26.85,"y":420},{"x":26.92,"y":345},{"x":27.03,"y":324},{"x":27.15,"y":335},{"x":27.3,"y":322},{"x":27.45,"y":330},{"x":27.6,"y":306},{"x":27.85,"y":298},{"x":28.0,"y":306},{"x":28.2,"y":296},{"x":28.43,"y":302},{"x":28.6,"y":294},{"x":28.8,"y":304},{"x":28.95,"y":316},{"x":29.05,"y":334},{"x":29.15,"y":318},{"x":29.3,"y":306},{"x":29.45,"y":296},{"x":29.6,"y":298},{"x":29.8,"y":294},{"x":30.0,"y":302},{"x":30.18,"y":298},{"x":30.35,"y":296},{"x":30.47,"y":300},{"x":30.62,"y":306},{"x":30.76,"y":314},{"x":30.9,"y":326},{"x":31.0,"y":334},{"x":31.08,"y":338},{"x":31.2,"y":321},{"x":31.35,"y":306},{"x":31.5,"y":296},{"x":31.7,"y":302},{"x":31.93,"y":298},{"x":32.1,"y":306},{"x":32.2,"y":302},{"x":32.35,"y":312},{"x":32.5,"y":314},{"x":32.65,"y":322},{"x":32.8,"y":321},{"x":32.92,"y":334},{"x":33.0,"y":341},{"x":33.15,"y":332},{"x":33.3,"y":331},{"x":33.45,"y":316},{"x":33.6,"y":308},{"x":33.8,"y":300},{"x":33.96,"y":298},{"x":34.1,"y":306},{"x":34.26,"y":311},{"x":34.4,"y":302},{"x":34.55,"y":308},{"x":34.7,"y":316},{"x":34.84,"y":310},{"x":35.0,"y":320},{"x":35.13,"y":321},{"x":35.3,"y":330},{"x":35.42,"y":334},{"x":35.55,"y":346},{"x":35.6,"y":351},{"x":35.7,"y":336},{"x":35.8,"y":331},{"x":35.9,"y":320},{"x":36.0,"y":314},{"x":36.15,"y":304},{"x":36.3,"y":298},{"x":36.45,"y":295},{"x":36.6,"y":294},{"x":36.75,"y":304},{"x":36.9,"y":314},{"x":37.05,"y":318},{"x":37.17,"y":321},{"x":37.3,"y":341},{"x":37.4,"y":330},{"x":37.5,"y":324},{"x":37.62,"y":316},{"x":37.75,"y":311},{"x":37.9,"y":306},{"x":38.04,"y":304},{"x":38.2,"y":312},{"x":38.33,"y":314},{"x":38.5,"y":308},{"x":38.63,"y":314},{"x":38.8,"y":318},{"x":38.92,"y":321},{"x":39.05,"y":328},{"x":39.21,"y":331},{"x":39.35,"y":338},{"x":39.45,"y":341},{"x":39.55,"y":346},{"x":39.65,"y":348},{"x":39.75,"y":338},{"x":39.9,"y":331},{"x":40.0,"y":326},{"x":40.08,"y":324},{"x":40.25,"y":316},{"x":40.37,"y":311},{"x":40.5,"y":304},{"x":40.66,"y":301},{"x":40.8,"y":296},{"x":40.96,"y":294},{"x":41.15,"y":300},{"x":41.3,"y":296},{"x":41.5,"y":302},{"x":41.7,"y":298},{"x":41.85,"y":304},{"x":42.0,"y":299},{"x":42.2,"y":303},{"x":42.35,"y":298},{"x":42.5,"y":304},{"x":42.7,"y":299},{"x":42.85,"y":302},{"x":43.0,"y":298},{"x":43.2,"y":304},{"x":43.4,"y":300},{"x":43.58,"y":306},{"x":43.75,"y":302},{"x":43.87,"y":308},{"x":44.0,"y":305},{"x":44.16,"y":312},{"x":44.3,"y":312},{"x":44.45,"y":318},{"x":44.6,"y":322},{"x":44.74,"y":324},{"x":44.9,"y":332},{"x":45.04,"y":331},{"x":45.15,"y":338},{"x":45.3,"y":341},{"x":45.45,"y":330},{"x":45.6,"y":324},{"x":45.75,"y":320},{"x":45.91,"y":318},{"x":46.05,"y":322},{"x":46.2,"y":324},{"x":46.35,"y":330},{"x":46.49,"y":328},{"x":46.65,"y":322},{"x":46.78,"y":318},{"x":46.92,"y":324},{"x":47.07,"y":321},{"x":47.2,"y":318},{"x":47.37,"y":314},{"x":47.5,"y":310},{"x":47.66,"y":308},{"x":47.8,"y":306},{"x":47.95,"y":304},{"x":48.1,"y":300},{"x":48.24,"y":298},{"x":48.4,"y":302},{"x":48.53,"y":301},{"x":48.7,"y":305},{"x":48.82,"y":301},{"x":48.95,"y":306},{"x":49.11,"y":304},{"x":49.25,"y":310},{"x":49.4,"y":308},{"x":49.55,"y":314},{"x":49.7,"y":311},{"x":49.85,"y":318},{"x":49.99,"y":318},{"x":50.15,"y":322},{"x":50.28,"y":324},{"x":50.4,"y":326},{"x":50.57,"y":321},{"x":50.7,"y":314},{"x":50.86,"y":308},{"x":51.0,"y":302},{"x":51.15,"y":298},{"x":51.3,"y":296},{"x":51.44,"y":294},{"x":51.6,"y":300},{"x":51.8,"y":295},{"x":52.0,"y":301},{"x":52.2,"y":295},{"x":52.4,"y":300},{"x":52.6,"y":294},{"x":52.8,"y":301},{"x":53.0,"y":295},{"x":53.2,"y":300},{"x":53.4,"y":294},{"x":53.6,"y":301},{"x":53.8,"y":295},{"x":54.0,"y":300},{"x":54.2,"y":294},{"x":54.4,"y":301},{"x":54.6,"y":295},{"x":54.8,"y":300},{"x":55.0,"y":294},{"x":55.2,"y":301},{"x":55.4,"y":295},{"x":55.6,"y":302},{"x":55.8,"y":296},{"x":56.0,"y":303},{"x":56.2,"y":296},{"x":56.4,"y":304},{"x":56.6,"y":296},{"x":56.8,"y":304},{"x":57.0,"y":297},{"x":57.2,"y":303},{"x":57.4,"y":296},{"x":57.6,"y":300}],
"cbz":[{"x":16.4,"y":64},{"x":16.55,"y":60},{"x":16.78,"y":58},{"x":16.95,"y":56},{"x":17.15,"y":53},{"x":17.36,"y":51},{"x":17.55,"y":48},{"x":17.75,"y":46},{"x":17.94,"y":44},{"x":18.15,"y":41},{"x":18.35,"y":40},{"x":18.53,"y":38},{"x":18.75,"y":39},{"x":18.96,"y":41},{"x":19.2,"y":45},{"x":19.4,"y":51},{"x":19.6,"y":62},{"x":19.75,"y":81},{"x":19.88,"y":104},{"x":19.98,"y":111},{"x":20.08,"y":98},{"x":20.21,"y":81},{"x":20.35,"y":58},{"x":20.57,"y":41},{"x":20.75,"y":44},{"x":21.0,"y":48},{"x":21.15,"y":58},{"x":21.29,"y":71},{"x":21.4,"y":52},{"x":21.5,"y":44},{"x":21.7,"y":46},{"x":21.88,"y":50},{"x":22.05,"y":64},{"x":22.17,"y":81},{"x":22.32,"y":105},{"x":22.46,"y":131},{"x":22.55,"y":175},{"x":22.6,"y":198},{"x":22.7,"y":210},{"x":22.77,"y":188},{"x":22.84,"y":196},{"x":22.95,"y":210},{"x":23.04,"y":223},{"x":23.12,"y":205},{"x":23.25,"y":198},{"x":23.35,"y":160},{"x":23.48,"y":114},{"x":23.54,"y":108},{"x":23.62,"y":120},{"x":23.77,"y":164},{"x":23.85,"y":210},{"x":23.92,"y":248},{"x":24.0,"y":290},{"x":24.06,"y":331},{"x":24.12,"y":450},{"x":24.18,"y":620},{"x":24.24,"y":680},{"x":24.3,"y":640},{"x":24.36,"y":500},{"x":24.42,"y":331},{"x":24.5,"y":231},{"x":24.6,"y":150},{"x":24.7,"y":90},{"x":24.79,"y":40},{"x":24.9,"y":48},{"x":25.08,"y":64},{"x":25.22,"y":95},{"x":25.37,"y":131},{"x":25.52,"y":165},{"x":25.66,"y":198},{"x":25.8,"y":230},{"x":25.96,"y":264},{"x":26.1,"y":331},{"x":26.2,"y":420},{"x":26.3,"y":520},{"x":26.4,"y":600},{"x":26.5,"y":640},{"x":26.58,"y":620},{"x":26.66,"y":590},{"x":26.74,"y":520},{"x":26.82,"y":400},{"x":26.9,"y":250},{"x":26.98,"y":98},{"x":27.1,"y":60},{"x":27.21,"y":41},{"x":27.35,"y":50},{"x":27.56,"y":44},{"x":27.7,"y":56},{"x":27.85,"y":64},{"x":28.0,"y":52},{"x":28.15,"y":70},{"x":28.3,"y":60},{"x":28.37,"y":81},{"x":28.5,"y":66},{"x":28.72,"y":58},{"x":28.9,"y":50},{"x":29.1,"y":56},{"x":29.31,"y":51},{"x":29.5,"y":46},{"x":29.7,"y":50},{"x":29.89,"y":41},{"x":30.1,"y":48},{"x":30.3,"y":52},{"x":30.47,"y":58},{"x":30.65,"y":72},{"x":30.82,"y":98},{"x":30.95,"y":112},{"x":31.05,"y":119},{"x":31.15,"y":100},{"x":31.28,"y":81},{"x":31.45,"y":60},{"x":31.64,"y":41},{"x":31.8,"y":46},{"x":32.0,"y":40},{"x":32.22,"y":38},{"x":32.4,"y":44},{"x":32.6,"y":42},{"x":32.8,"y":51},{"x":33.0,"y":48},{"x":33.2,"y":58},{"x":33.38,"y":61},{"x":33.55,"y":56},{"x":33.7,"y":68},{"x":33.82,"y":81},{"x":33.95,"y":60},{"x":34.1,"y":48},{"x":34.3,"y":44},{"x":34.55,"y":41},{"x":34.75,"y":46},{"x":34.95,"y":44},{"x":35.1,"y":52},{"x":35.28,"y":48},{"x":35.5,"y":58},{"x":35.71,"y":64},{"x":35.9,"y":70},{"x":36.15,"y":68},{"x":36.35,"y":62},{"x":36.59,"y":54},{"x":36.8,"y":48},{"x":37.0,"y":44},{"x":37.17,"y":41},{"x":37.4,"y":46},{"x":37.6,"y":50},{"x":37.75,"y":48},{"x":37.95,"y":56},{"x":38.15,"y":62},{"x":38.33,"y":64},{"x":38.5,"y":72},{"x":38.7,"y":76},{"x":38.92,"y":78},{"x":39.1,"y":72},{"x":39.25,"y":84},{"x":39.4,"y":80},{"x":39.6,"y":76},{"x":39.79,"y":71},{"x":40.0,"y":68},{"x":40.22,"y":64},{"x":40.45,"y":70},{"x":40.66,"y":84},{"x":40.8,"y":70},{"x":41.0,"y":64},{"x":41.2,"y":58},{"x":41.45,"y":62},{"x":41.65,"y":56},{"x":41.83,"y":54},{"x":42.05,"y":60},{"x":42.3,"y":54},{"x":42.5,"y":60},{"x":42.7,"y":54},{"x":42.95,"y":62},{"x":43.2,"y":56},{"x":43.4,"y":64},{"x":43.58,"y":61},{"x":43.8,"y":68},{"x":44.0,"y":64},{"x":44.2,"y":72},{"x":44.45,"y":71},{"x":44.65,"y":80},{"x":44.8,"y":92},{"x":44.89,"y":101},{"x":45.0,"y":88},{"x":45.18,"y":81},{"x":45.35,"y":70},{"x":45.5,"y":64},{"x":45.62,"y":58},{"x":45.85,"y":62},{"x":46.05,"y":54},{"x":46.25,"y":58},{"x":46.49,"y":51},{"x":46.7,"y":60},{"x":46.9,"y":66},{"x":47.08,"y":76},{"x":47.22,"y":84},{"x":47.35,"y":72},{"x":47.5,"y":68},{"x":47.66,"y":64},{"x":47.85,"y":58},{"x":48.05,"y":62},{"x":48.25,"y":56},{"x":48.53,"y":54},{"x":48.75,"y":60},{"x":48.95,"y":54},{"x":49.11,"y":58},{"x":49.3,"y":52},{"x":49.5,"y":56},{"x":49.7,"y":51},{"x":49.9,"y":54},{"x":50.1,"y":48},{"x":50.28,"y":50},{"x":50.5,"y":44},{"x":50.7,"y":42},{"x":50.86,"y":38},{"x":51.05,"y":44},{"x":51.25,"y":40},{"x":51.44,"y":46},{"x":51.65,"y":40},{"x":51.85,"y":46},{"x":52.05,"y":40},{"x":52.25,"y":47},{"x":52.5,"y":41},{"x":52.7,"y":46},{"x":52.9,"y":40},{"x":53.1,"y":47},{"x":53.35,"y":41},{"x":53.55,"y":46},{"x":53.75,"y":40},{"x":53.95,"y":48},{"x":54.15,"y":41},{"x":54.36,"y":46},{"x":54.6,"y":40},{"x":54.8,"y":47},{"x":55.0,"y":41},{"x":55.2,"y":46},{"x":55.45,"y":40},{"x":55.65,"y":48},{"x":55.82,"y":41},{"x":56.05,"y":46},{"x":56.25,"y":40},{"x":56.5,"y":47},{"x":56.7,"y":41},{"x":56.9,"y":46},{"x":57.1,"y":40},{"x":57.35,"y":47},{"x":57.6,"y":43}],
"labels":[{"x":57.8,"y":2075,"t":"Cryomill Method ‘0’"},{"x":58.14,"y":1938,"t":"Cryomill Method ‘1’"},{"x":57.87,"y":1741,"t":"Cryomill Method ‘7’"},{"x":57.39,"y":1464,"t":"Melting Method"},{"x":57.73,"y":1203,"t":"Solvent Evaporation Method"},{"x":57.39,"y":993,"t":"Solution Cooling Crystallization Method"},{"x":57.59,"y":691,"t":"PM"},{"x":56.97,"y":421,"t":"NCT"},{"x":56.97,"y":164,"t":"CBZ"}]
},
"encoding":{
"x":{"field":"x","type":"quantitative","scale":{"domain":[16.4,57.6],"nice":false,"zero":false},"axis":{"values":[21.05,27.07,33.06,39.19,45.3,51.37,57.34],"format":".2f","labelFont":"Liberation Serif","labelFontSize":25,"labelFontWeight":"bold","labelColor":"black","labelBaseline":"alphabetic","labelPadding":30,"labelFlush":false,"labelOverlap":false,"tickSize":8,"tickColor":"black","tickWidth":1.2,"domainColor":"black","domainWidth":1.2,"title":"2-Theta","titleFont":"Liberation Serif","titleFontSize":25,"titleFontWeight":"bold","titleColor":"black","titleBaseline":"bottom","titleY":74}},
"y":{"field":"y","type":"quantitative","scale":{"domain":[0,2131],"nice":false,"zero":false},"axis":{"labels":false,"ticks":false,"domainColor":"black","domainWidth":1,"title":"Intensity","titleFont":"Liberation Serif","titleFontSize":25,"titleFontWeight":"bold","titleColor":"black","titleAngle":270,"titleBaseline":"alphabetic","titleAlign":"center","titleX":-17,"titleY":905}}
},
"layer":[
{"data":{"name":"c0"},"mark":{"type":"line","color":"#0000ff","strokeWidth":1.9}},
{"data":{"name":"c1"},"mark":{"type":"line","color":"#0000ff","strokeWidth":1.9}},
{"data":{"name":"c7"},"mark":{"type":"line","color":"#0000ff","strokeWidth":1.9}},
{"data":{"name":"melt"},"mark":{"type":"line","color":"#0000ff","strokeWidth":1.9}},
{"data":{"name":"solv"},"mark":{"type":"line","color":"#0000ff","strokeWidth":1.9}},
{"data":{"name":"sol"},"mark":{"type":"line","color":"#0000ff","strokeWidth":1.9}},
{"data":{"name":"pm"},"mark":{"type":"line","color":"#0000ff","strokeWidth":1.9}},
{"data":{"name":"nct"},"mark":{"type":"line","color":"#0000ff","strokeWidth":1.9}},
{"data":{"name":"cbz"},"mark":{"type":"line","color":"#0000ff","strokeWidth":1.9}},
{"data":{"name":"labels"},"mark":{"type":"text","align":"right","baseline":"middle","font":"Liberation Serif","fontSize":25,"fontWeight":"bold","color":"#0000ff"},"encoding":{"text":{"field":"t"}}}
]}
